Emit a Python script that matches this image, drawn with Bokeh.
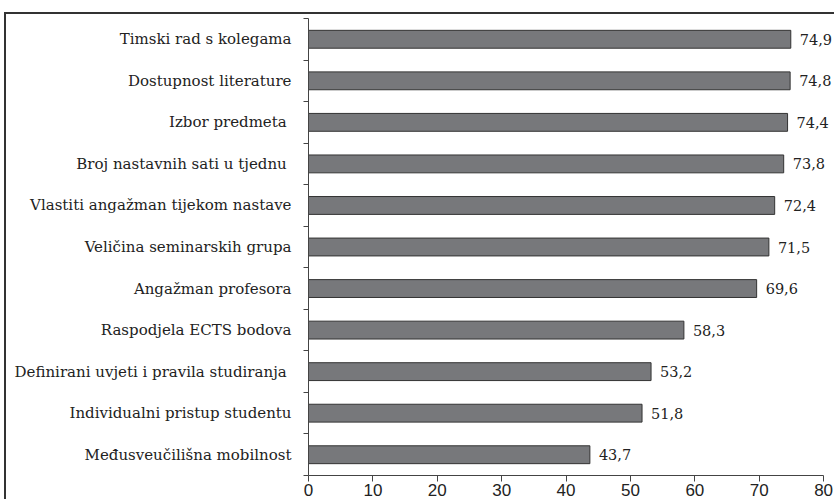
from bokeh.plotting import figure
from bokeh.models import Range1d, FixedTicker, ColumnDataSource
from bokeh.core.properties import value
from bokeh.embed import file_html
from bokeh.resources import INLINE

categories = [
    "Timski rad s kolegama",
    "Dostupnost literature",
    "Izbor predmeta ",
    "Broj nastavnih sati u tjednu ",
    "Vlastiti angažman tijekom nastave",
    "Veličina seminarskih grupa",
    "Angažman profesora",
    "Raspodjela ECTS bodova",
    "Definirani uvjeti i pravila studiranja ",
    "Individualni pristup studentu",
    "Međusveučilišna mobilnost",
]
values = [74.9, 74.8, 74.4, 73.8, 72.4, 71.5, 69.6, 58.3, 53.2, 51.8, 43.7]
value_labels = ["74,9", "74,8", "74,4", "73,8", "72,4", "71,5", "69,6", "58,3", "53,2", "51,8", "43,7"]
x_ticks = [0, 10, 20, 30, 40, 50, 60, 70, 80]

n = len(categories)
pos = [i + 0.5 for i in range(n)]
src = ColumnDataSource(dict(y=pos, v=values, lab=value_labels))

p = figure(
    width=830, height=487,
    x_range=Range1d(0, 82), y_range=Range1d(n, 0),
    output_backend="svg", toolbar_location=None,
    min_border_left=302, min_border_right=0, min_border_top=4, min_border_bottom=26,
)
p.margin = (12, 0, 0, 4)
p.styles = {"border-top": "2px solid #333333", "border-left": "2px solid #333333"}
p.outline_line_color = None
p.xgrid.visible = False
p.ygrid.visible = False
p.background_fill_color = "white"
p.border_fill_color = "white"

p.hbar(y="y", right="v", left=0, height=0.43, source=src,
       fill_color="#77787b", line_color="#333333", line_width=1)
p.text(x="v", y="y", text="lab", source=src, x_offset=9,
       text_baseline="middle", text_align="left",
       text_font=value("DejaVu Serif"), text_font_size="14.5px", text_color="#222222")

# x axis
xa = p.xaxis[0]
xa.ticker = FixedTicker(ticks=x_ticks)
xa.bounds = (0, 80)
xa.major_tick_out = 6
xa.major_tick_in = 0
xa.minor_tick_out = 0
xa.minor_tick_in = 0
xa.axis_line_color = "#444444"
xa.major_tick_line_color = "#444444"
xa.major_label_text_font = "Liberation Sans"
xa.major_label_text_font_size = "17px"
xa.major_label_text_color = "#222222"
xa.major_label_standoff = 2

# y axis
ya = p.yaxis[0]
ya.ticker = FixedTicker(ticks=pos, minor_ticks=list(range(n + 1)))
ya.major_label_overrides = {pp: c for pp, c in zip(pos, categories)}
ya.major_tick_out = 0
ya.major_tick_in = 0
ya.minor_tick_out = 5
ya.minor_tick_in = 0
ya.minor_tick_line_color = "#444444"
ya.axis_line_color = "#444444"
ya.major_label_text_font = "DejaVu Serif"
ya.major_label_text_font_size = "15px"
ya.major_label_text_color = "#222222"
ya.major_label_standoff = 12

open("out.html", "w").write(file_html(p, INLINE))
